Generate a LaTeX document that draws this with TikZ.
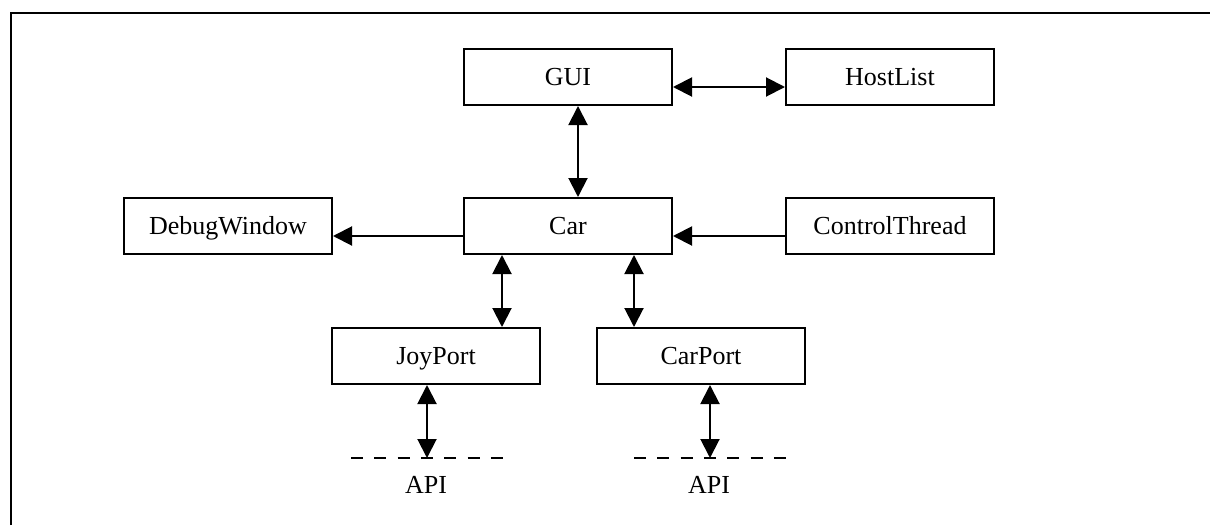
\documentclass[tikz,border=0pt]{standalone}
\usepackage{fontspec}
\setmainfont{Liberation Serif}
\usetikzlibrary{arrows.meta}
\begin{document}
\begin{tikzpicture}[x=1pt,y=-1pt,
  label font/.style={font=\fontsize{26}{30}\selectfont, text height=19.5pt, text depth=2.3pt, inner sep=0pt},
  box/.style={label font, draw, line width=2pt, minimum width=208pt, minimum height=56pt},
  head/.tip={Triangle[length=19pt,width=19pt]},
  link/.style={line width=2pt, head-head},
  flow/.style={line width=2pt, -head},
  apiline/.style={line width=2.2pt, dash pattern=on 12pt off 11.33pt}
]
\useasboundingbox (0,0) rectangle (1210,525);

% page frame (only its top and left edges fall inside the page)
\coordinate (frameBL) at (11,525);
\coordinate (frameTL) at (11,13);
\coordinate (frameTR) at (1210,13);
\draw[line width=2.2pt] (frameBL) -- (frameTL) -- (frameTR);

% modules
\node[box] (gui)     at (568,77)  {GUI};
\node[box] (host)    at (890,77)  {HostList};
\node[box] (car)     at (568,226) {Car};
\node[box] (debug)   at (228,226) {DebugWindow};
\node[box] (ctrl)    at (890,226) {ControlThread};
\node[box] (joy)     at (436,356) {JoyPort};
\node[box] (carport) at (701,356) {CarPort};

% API boundaries
\coordinate (apiJL) at (351,458);
\coordinate (apiJR) at (503,458);
\coordinate (apiJ)  at (427,458);
\coordinate (apiCL) at (634,458);
\coordinate (apiCR) at (787,458);
\coordinate (apiC)  at (710,458);
\draw[apiline] (apiJL) -- (apiJR);
\draw[apiline] (apiCL) -- (apiCR);
\node[label font] (apiJtext) at (426,485) {API};
\node[label font] (apiCtext) at (709,485) {API};

% connections
\draw[link] ([yshift=-10pt]gui.east) -- ([yshift=-10pt]host.west);
\draw[link] ([xshift=10pt]gui.south) -- ([xshift=10pt]car.north);
\draw[flow] ([yshift=-10pt]car.west) -- ([yshift=-10pt]debug.east);
\draw[flow] ([yshift=-10pt]ctrl.west) -- ([yshift=-10pt]car.east);
\draw[link] ([xshift=-66pt]car.south) -- ([xshift=66pt]joy.north);
\draw[link] ([xshift=66pt]car.south) -- ([xshift=-67pt]carport.north);
\draw[link] ([xshift=-9pt]joy.south) -- (apiJ);
\draw[link] ([xshift=9pt]carport.south) -- (apiC);
\end{tikzpicture}
\end{document}
